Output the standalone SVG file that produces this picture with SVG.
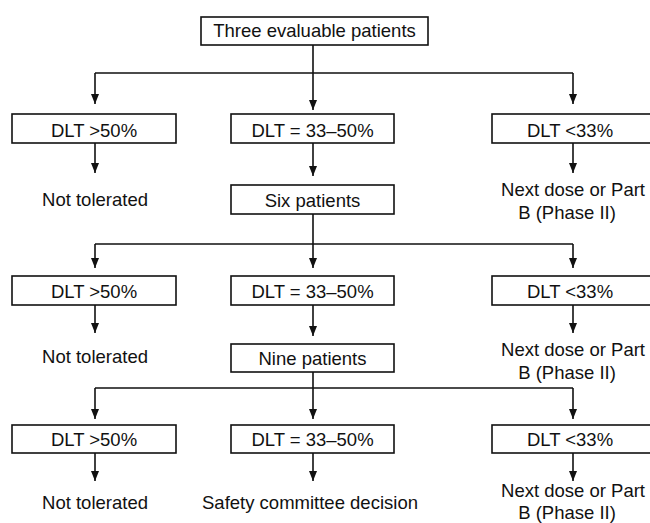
<svg xmlns="http://www.w3.org/2000/svg" width="650" height="523" viewBox="0 0 650 523">
<style>
rect.box{fill:#fff;stroke:#111;stroke-width:1.6}
text{font-family:"Liberation Sans",Arial,sans-serif;font-size:18.5px;fill:#111;text-anchor:middle}
.ln{fill:none;stroke:#111;stroke-width:1.6}
</style>
<defs>
<marker id="ah" viewBox="0 0 10 8" refX="10" refY="4" markerWidth="10" markerHeight="8" markerUnits="userSpaceOnUse" orient="auto">
<path d="M0,0 L10,4 L0,8 Z" fill="#111"/>
</marker>
</defs>
<rect width="650" height="523" fill="#fff"/>
<g id="connectors" class="ln">
<path d="M313,45 V73 M95,73 H573"/>
<path d="M95,73 V104" marker-end="url(#ah)"/>
<path d="M313,73 V110" marker-end="url(#ah)"/>
<path d="M573,73 V104" marker-end="url(#ah)"/>
<path d="M95,143 V173" marker-end="url(#ah)"/>
<path d="M313,143 V176" marker-end="url(#ah)"/>
<path d="M573,143 V173" marker-end="url(#ah)"/>
<path d="M313,214 V244 M95,244 H573"/>
<path d="M95,244 V268" marker-end="url(#ah)"/>
<path d="M313,244 V268" marker-end="url(#ah)"/>
<path d="M573,244 V268" marker-end="url(#ah)"/>
<path d="M95,305 V333" marker-end="url(#ah)"/>
<path d="M313,305 V336" marker-end="url(#ah)"/>
<path d="M573,305 V333" marker-end="url(#ah)"/>
<path d="M313,372 V388 M95,388 H573"/>
<path d="M95,388 V419" marker-end="url(#ah)"/>
<path d="M313,388 V419" marker-end="url(#ah)"/>
<path d="M573,388 V419" marker-end="url(#ah)"/>
<path d="M95,453 V481" marker-end="url(#ah)"/>
<path d="M313,453 V481" marker-end="url(#ah)"/>
<path d="M573,453 V481" marker-end="url(#ah)"/>
</g>
<g id="n-three"><rect class="box" x="201" y="17" width="227" height="28"/><text x="314.5" y="37">Three evaluable patients</text></g>
<g id="n-r1-high"><rect class="box" x="12" y="114" width="164" height="29"/><text x="94" y="137">DLT &gt;50%</text></g>
<g id="n-r1-mid"><rect class="box" x="231" y="114" width="163" height="29"/><text x="312.5" y="137">DLT = 33–50%</text></g>
<g id="n-r1-low"><rect class="box" x="492" y="114" width="160" height="29"/><text x="570" y="137">DLT &lt;33%</text></g>
<g id="n-r1-nt"><text x="95" y="206">Not tolerated</text></g>
<g id="n-six"><rect class="box" x="231" y="185" width="163" height="29"/><text x="312.5" y="207">Six patients</text></g>
<g id="n-r1-next"><text x="573" y="196">Next dose or Part</text><text x="567" y="219">B (Phase II)</text></g>
<g id="n-r2-high"><rect class="box" x="12" y="276" width="164" height="29"/><text x="94" y="298">DLT &gt;50%</text></g>
<g id="n-r2-mid"><rect class="box" x="231" y="276" width="163" height="29"/><text x="312.5" y="298">DLT = 33–50%</text></g>
<g id="n-r2-low"><rect class="box" x="492" y="276" width="160" height="29"/><text x="570" y="298">DLT &lt;33%</text></g>
<g id="n-r2-nt"><text x="95" y="363">Not tolerated</text></g>
<g id="n-nine"><rect class="box" x="231" y="344" width="163" height="28"/><text x="312.5" y="365">Nine patients</text></g>
<g id="n-r2-next"><text x="573" y="356">Next dose or Part</text><text x="567" y="379">B (Phase II)</text></g>
<g id="n-r3-high"><rect class="box" x="12" y="425" width="164" height="28"/><text x="94" y="446">DLT &gt;50%</text></g>
<g id="n-r3-mid"><rect class="box" x="231" y="425" width="163" height="28"/><text x="312.5" y="446">DLT = 33–50%</text></g>
<g id="n-r3-low"><rect class="box" x="492" y="425" width="160" height="28"/><text x="570" y="446">DLT &lt;33%</text></g>
<g id="n-r3-nt"><text x="95" y="509">Not tolerated</text></g>
<g id="n-r3-safety"><text x="310" y="509">Safety committee decision</text></g>
<g id="n-r3-next"><text x="573" y="497">Next dose or Part</text><text x="567" y="519">B (Phase II)</text></g>
</svg>
